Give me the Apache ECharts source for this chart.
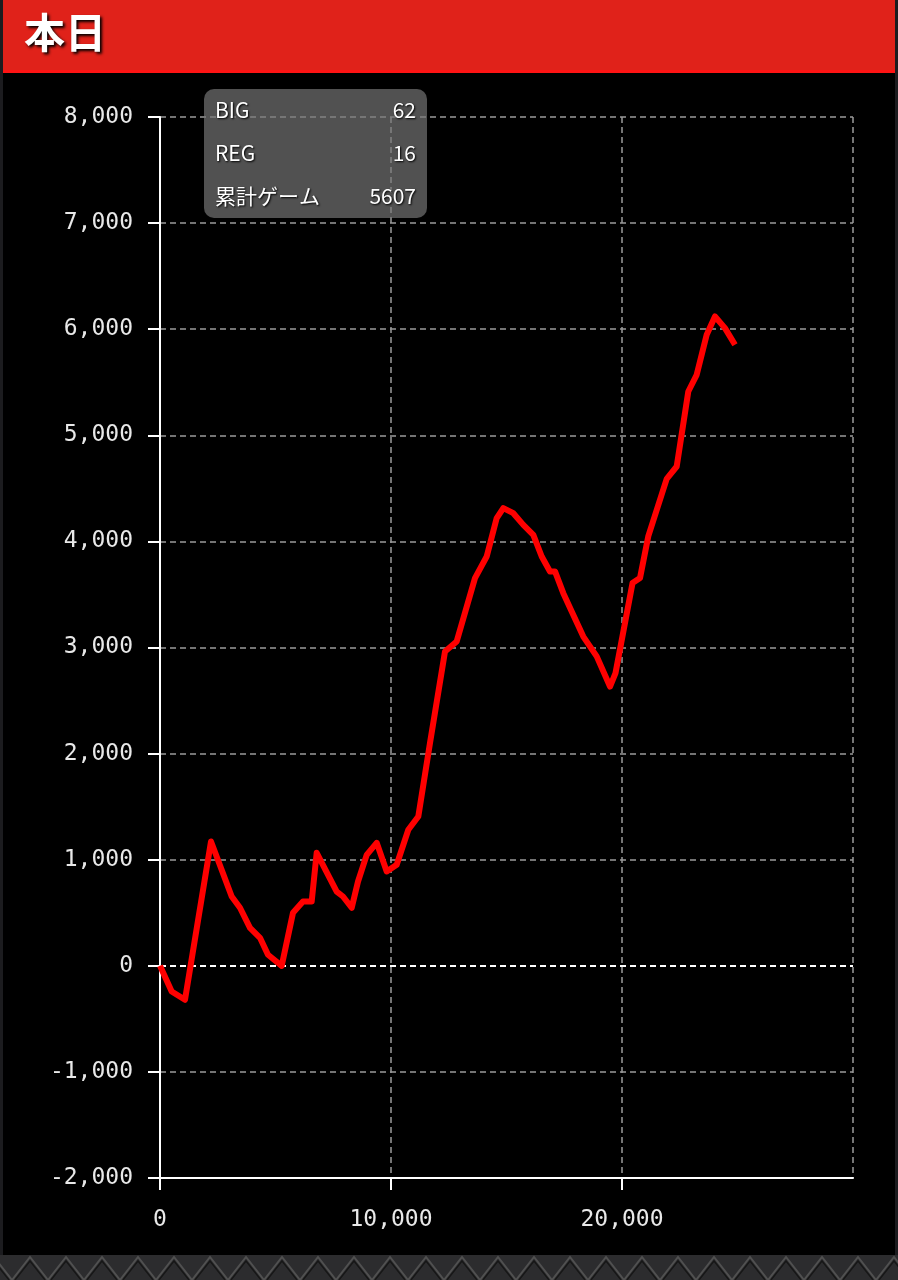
<!DOCTYPE html>
<html>
<head>
<meta charset="utf-8">
<script src="https://cdn.jsdelivr.net/npm/echarts@6/dist/echarts.min.js"></script>
<style>
  html, body { margin: 0; padding: 0; width: 898px; height: 1280px; overflow: hidden; background: #1c1c1f; }
  #frame { position: absolute; left: 3px; top: 0; width: 892px; height: 1255px; background: #000; }
  #bottom { position: absolute; left: 0; top: 1255px; width: 898px; height: 25px;
    background-color: #2a2a2c;
    background-image: url("data:image/svg+xml;utf8,<svg xmlns='http://www.w3.org/2000/svg' width='36' height='25'><rect width='36' height='25' fill='%232c2c2e'/><path d='M0 25 L18 2 L36 25' fill='none' stroke='%23505050' stroke-width='2'/><path d='M3 25 L18 6 L33 25' fill='none' stroke='%23161616' stroke-width='1.5'/></svg>");
    background-repeat: repeat-x; background-position: 12px 0; }
  #chart { position: absolute; left: 0; top: 0; width: 898px; height: 1280px; }
</style>
</head>
<body>
<div id="frame"></div>
<div id="bottom"></div>
<div id="chart"></div>
<script>
// ---- data ----
const titleText = '本日';
const gameX = [0, 506, 1082, 2208, 3104, 3463, 3896, 4329, 4675, 5268, 5758, 6190, 6567, 6783, 7649, 7922, 8299, 8572, 8948, 9381, 9814, 10247, 10749, 11182, 11688, 12338, 12844, 13636, 14143, 14576, 14862, 15295, 15728, 16161, 16524, 16883, 17100, 17459, 17823, 18325, 18905, 19481, 19719, 20455, 20779, 21139, 21935, 22368, 22870, 23233, 23666, 24025, 24458, 24891];
const diffY = [0, -242, -320, 1171, 653, 547, 358, 264, 104, 0, 500, 606, 606, 1065, 700, 653, 547, 795, 1046, 1159, 889, 952, 1282, 1407, 2099, 2962, 3057, 3654, 3858, 4220, 4314, 4266, 4156, 4062, 3858, 3717, 3717, 3512, 3339, 3103, 2916, 2632, 2758, 3607, 3654, 4050, 4590, 4706, 5413, 5570, 5947, 6120, 6010, 5853];
const statLabels = ['BIG', 'REG', '累計ゲーム'];
const statValues = ['62', '16', '5607'];
const yTicks = { min: -2000, max: 8000, interval: 1000 };
const xTicks = { min: 0, max: 30000, interval: 10000 };

const seriesData = gameX.map((x, i) => [x, diffY[i]]);
const fmt = v => (v < 0 ? '-' : '') + Math.abs(v).toString().replace(/\B(?=(\d{3})+(?!\d))/g, ',');

const chart = echarts.init(document.getElementById('chart'), null, { renderer: 'canvas' });

const statGraphics = [];
statLabels.forEach((lab, i) => {
  const cy = 110 + i * 43;
  const st = { fill: '#fff', font: '21px "Noto Sans CJK JP", "Noto Sans", sans-serif',
      textShadowColor: '#000', textShadowBlur: 2, textShadowOffsetX: 1, textShadowOffsetY: 1,
      textVerticalAlign: 'middle' };
  statGraphics.push({ type: 'text', x: 215, y: cy, z: 20,
    style: Object.assign({ text: lab, textAlign: 'left', verticalAlign: 'middle' }, st) });
  statGraphics.push({ type: 'text', x: 416, y: cy, z: 20,
    style: Object.assign({ text: statValues[i], textAlign: 'right', align: 'right', verticalAlign: 'middle' }, st) });
});

const axisFont = '"DejaVu Sans Mono", monospace';

chart.setOption({
  backgroundColor: 'transparent',
  animation: false,
  title: {
    text: titleText, left: 19, top: 7,
    textStyle: { color: '#fff', fontSize: 41, fontWeight: 'bold', fontFamily: '"Noto Sans CJK JP", sans-serif',
      textShadowColor: '#000', textShadowBlur: 3, textShadowOffsetX: 2, textShadowOffsetY: 2 }
  },
  graphic: [
    { type: 'rect', left: 3, top: 0, z: 0, shape: { width: 892, height: 71 }, style: { fill: '#e0221a' } },
    { type: 'rect', left: 3, top: 70, z: 0, shape: { width: 892, height: 3 }, style: { fill: '#ff1414' } },
    { type: 'rect', left: 204, top: 89, z: 15, shape: { width: 223, height: 129, r: 10 }, style: { fill: 'rgba(120,120,120,0.68)' } }
  ].concat(statGraphics),
  grid: { left: 160, right: 45, top: 117, bottom: 102, containLabel: false },
  xAxis: {
    type: 'value', min: xTicks.min, max: xTicks.max, interval: xTicks.interval,
    axisLine: { show: true, onZero: false, lineStyle: { color: '#fff', width: 2 } },
    axisTick: { show: true, inside: false, length: 12, lineStyle: { color: '#fff', width: 2 } },
    axisLabel: { color: '#e8e8e8', fontSize: 23, fontFamily: axisFont, margin: 31,
      showMaxLabel: false, formatter: v => fmt(v) },
    splitLine: { show: true, lineStyle: { color: '#9a9a9a', type: [6, 4], width: 1.5 } }
  },
  yAxis: {
    type: 'value', min: yTicks.min, max: yTicks.max, interval: yTicks.interval,
    axisLine: { show: true, onZero: false, lineStyle: { color: '#fff', width: 2 } },
    axisTick: { show: true, inside: false, length: 12, lineStyle: { color: '#fff', width: 2 } },
    axisLabel: { color: '#e8e8e8', fontSize: 23, fontFamily: axisFont, margin: 27,
      formatter: v => fmt(v) },
    splitLine: { show: true, lineStyle: { color: '#9a9a9a', type: [6, 4], width: 1.5 } }
  },
  series: [{
    type: 'line', data: seriesData, showSymbol: false, symbol: 'none', z: 10,
    lineStyle: { color: '#ff0000', width: 6, join: 'round' },
    markLine: {
      silent: true, symbol: ['none', 'none'], label: { show: false },
      lineStyle: { color: '#ffffff', type: [6, 4], width: 2 },
      data: [{ yAxis: 0 }]
    }
  }]
});
</script>
</body>
</html>
